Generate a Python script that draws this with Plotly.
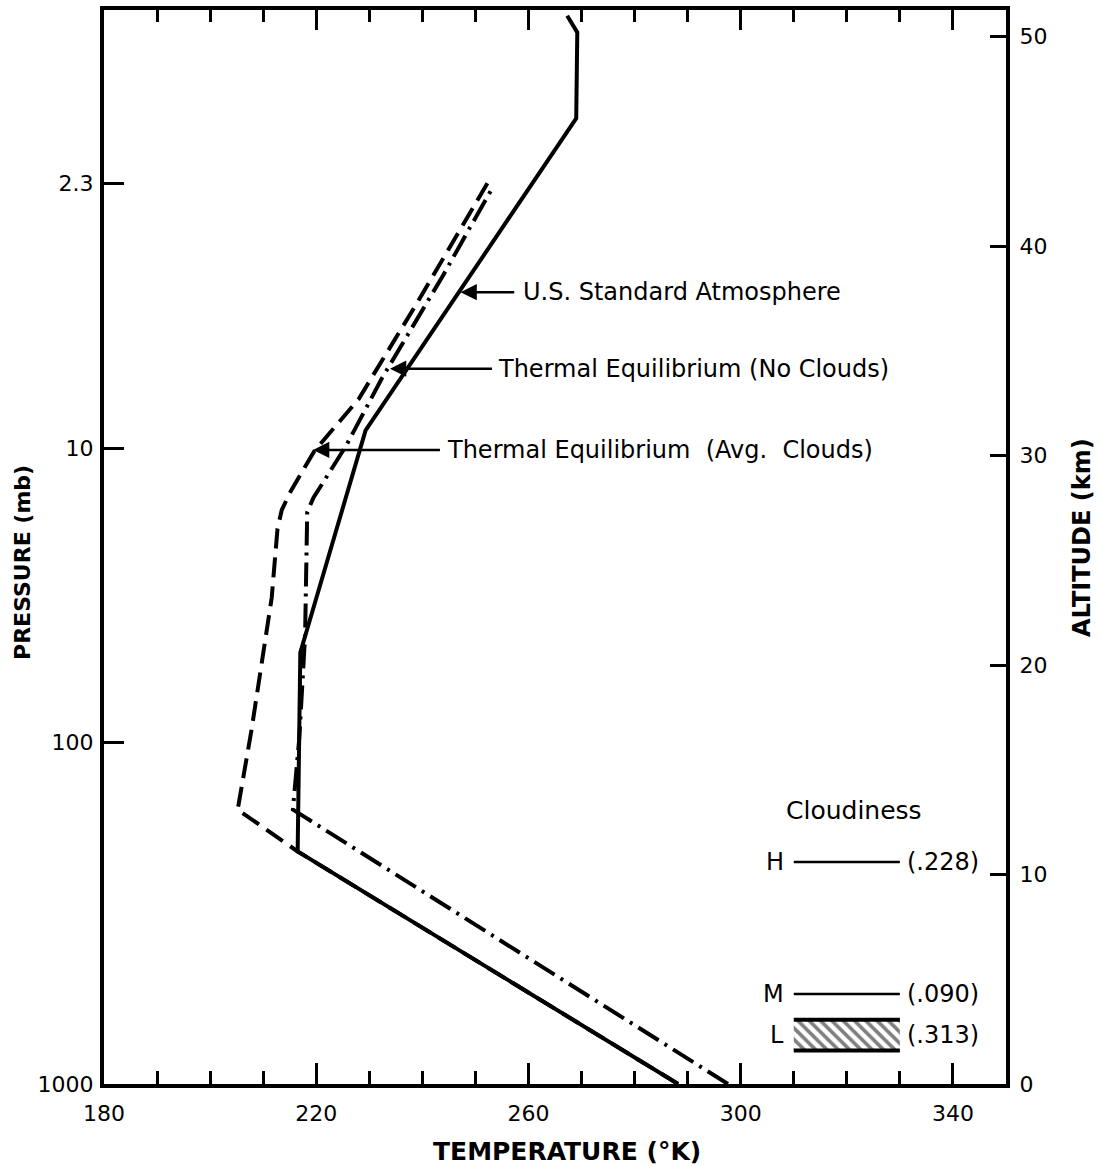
import plotly.graph_objects as go

# ---------------- data ----------------
# U.S. Standard Atmosphere (solid)
us_temp = [288.2, 216.5, 217.0, 229.3, 269.0, 269.2, 267.3]
us_alt = [0.0, 11.1, 20.6, 31.2, 46.1, 50.2, 51.0]

# Thermal Equilibrium (No Clouds)  (dash-dot)
nc_temp = [297.6, 215.6, 216.8, 217.9, 218.3, 219.5, 222.0, 225.7, 232.4, 243.9, 249.0, 253.5]
nc_alt = [0.0, 13.1, 16.5, 21.4, 27.3, 28.0, 29.0, 30.5, 33.7, 38.6, 40.9, 42.9]

# Thermal Equilibrium (Avg. Clouds)  (dashed)
ac_temp = [288.2, 216.5, 205.2, 207.8, 211.6, 212.7, 213.5, 215.2, 219.6, 228.0, 238.8, 252.5]
ac_alt = [0.0, 11.1, 13.1, 16.9, 23.2, 26.5, 27.4, 28.3, 30.2, 32.7, 37.2, 43.1]

# Cloud layers (altitude, km) and amounts
cloud_names = ["H", "M", "L"]
cloud_amount = ["(.228)", "(.090)", "(.313)"]
cloud_alt = [10.6, 4.3, None]
low_cloud_base, low_cloud_top = 1.6, 3.07
cloud_t_range = [310, 330]

# axes ticks
temp_ticks = [180, 220, 260, 300, 340]
alt_ticks = [0, 10, 20, 30, 40, 50]
pressure_labels = ["1000", "100", "10", "2.3"]
pressure_alt = [0.0, 16.3, 30.35, 43.0]

# ---------------- figure ----------------
FONT = "DejaVu Sans"
fig = go.Figure()

fig.add_trace(go.Scatter(x=us_temp, y=us_alt, mode="lines",
                         line=dict(color="black", width=4), showlegend=False))
fig.add_trace(go.Scatter(x=nc_temp, y=nc_alt, mode="lines",
                         line=dict(color="black", width=4, dash="24px,7px,3px,7px"),
                         showlegend=False))
fig.add_trace(go.Scatter(x=ac_temp, y=ac_alt, mode="lines",
                         line=dict(color="black", width=4, dash="20px,9px"),
                         showlegend=False))

LEG = 24
# cloud layers
for name, amt, alt in zip(cloud_names[:2], cloud_amount[:2], cloud_alt[:2]):
    fig.add_trace(go.Scatter(x=cloud_t_range, y=[alt, alt], mode="lines",
                             line=dict(color="black", width=2.5), showlegend=False))
    fig.add_annotation(x=cloud_t_range[0] - 1.4, y=alt, text=name, showarrow=False,
                       xanchor="right", yanchor="middle",
                       font=dict(family=FONT, size=LEG, color="black"))
    fig.add_annotation(x=cloud_t_range[1] + 1.0, y=alt, text=amt, showarrow=False,
                       xanchor="left", yanchor="middle",
                       font=dict(family=FONT, size=LEG, color="black"))

xl = [cloud_t_range[0], cloud_t_range[1], cloud_t_range[1], cloud_t_range[0], cloud_t_range[0]]
yl = [low_cloud_base, low_cloud_base, low_cloud_top, low_cloud_top, low_cloud_base]
fig.add_trace(go.Scatter(x=xl, y=yl, mode="lines", fill="toself",
                         fillcolor="white",
                         fillpattern=dict(shape="\\", size=8, solidity=0.45,
                                          fgcolor="black", bgcolor="white"),
                         line=dict(width=0, color="black"), showlegend=False))
for yy in (low_cloud_base, low_cloud_top):
    fig.add_trace(go.Scatter(x=cloud_t_range, y=[yy, yy], mode="lines",
                             line=dict(color="black", width=4), showlegend=False))
mid_low = (low_cloud_base + low_cloud_top) / 2
fig.add_annotation(x=cloud_t_range[0] - 1.4, y=mid_low, text=cloud_names[2], showarrow=False,
                   xanchor="right", yanchor="middle",
                   font=dict(family=FONT, size=LEG, color="black"))
fig.add_annotation(x=cloud_t_range[1] + 1.0, y=mid_low, text=cloud_amount[2], showarrow=False,
                   xanchor="left", yanchor="middle",
                   font=dict(family=FONT, size=LEG, color="black"))
fig.add_annotation(x=321.3, y=13.06, text="Cloudiness", showarrow=False,
                   xanchor="center", yanchor="middle",
                   font=dict(family=FONT, size=LEG + 1, color="black"))

# dummy traces for secondary axes
fig.add_trace(go.Scatter(x=[None], y=[None], yaxis="y2", showlegend=False))
fig.add_trace(go.Scatter(x=[None], y=[None], xaxis="x2", showlegend=False))

# labelled arrows
labels = [
    ("U.S. Standard Atmosphere", 247.2, 257.6, 258.6, 37.8),
    ("Thermal Equilibrium (No Clouds)", 233.9, 253.4, 253.8, 34.15),
    ("Thermal Equilibrium\u00a0 (Avg.\u00a0 Clouds)", 219.4, 243.6, 244.2, 30.27),
]
for txt, tip, tail, tx, alt in labels:
    fig.add_annotation(x=tip, y=alt, ax=tail, ay=alt, axref="x", ayref="y",
                       text="", showarrow=True, arrowhead=2, arrowsize=1.3,
                       arrowwidth=2.5, arrowcolor="black")
    fig.add_annotation(x=tx, y=alt, text=txt, showarrow=False, xanchor="left",
                       yanchor="middle", font=dict(family=FONT, size=24, color="black"))

# axis titles
fig.add_annotation(xref="paper", yref="paper", x=0.513, y=-0.0633, text="TEMPERATURE (°K)",
                   showarrow=False, xanchor="center", yanchor="middle",
                   font=dict(family=FONT, size=25, color="black", weight="bold"))
fig.add_annotation(xref="paper", yref="paper", x=-0.091, y=0.486, text="PRESSURE (mb)",
                   showarrow=False, textangle=-90, xanchor="center", yanchor="middle",
                   font=dict(family=FONT, size=22, color="black", weight="bold"))
fig.add_annotation(xref="paper", yref="paper", x=1.085, y=0.509, text="ALTITUDE (km)",
                   showarrow=False, textangle=-90, xanchor="center", yanchor="middle",
                   font=dict(family=FONT, size=24, color="black", weight="bold"))

axis_common = dict(showgrid=False, zeroline=False, showline=True, linecolor="black",
                   linewidth=4, ticks="inside", tickcolor="black", tickwidth=3)

fig.update_layout(
    width=1100, height=1166,
    margin=dict(l=104, r=94, t=10, b=82),
    paper_bgcolor="white", plot_bgcolor="white",
    showlegend=False,
    font=dict(family=FONT, size=22, color="black"),
    xaxis=dict(range=[180, 350], tickvals=temp_ticks, ticklen=21,
               minor=dict(tickvals=list(range(180, 351, 10)), ticks="inside",
                          ticklen=13, tickwidth=3, tickcolor="black"),
               ticklabelstandoff=7, **axis_common),
    xaxis2=dict(range=[180, 350], overlaying="x", side="top", tickvals=temp_ticks,
                ticklen=20, showticklabels=False,
                minor=dict(tickvals=list(range(180, 351, 10)), ticks="inside",
                           ticklen=12, tickwidth=3, tickcolor="black"),
                **axis_common),
    yaxis=dict(range=[0, 51.27], side="right", tickvals=alt_ticks, ticklen=16,
               ticklabelstandoff=5, **axis_common),
    yaxis2=dict(range=[0, 51.27], overlaying="y", side="left", tickvals=pressure_alt,
                ticktext=pressure_labels, ticklen=20, ticklabelstandoff=2,
                **axis_common),
)

fig.write_html("out.html")
